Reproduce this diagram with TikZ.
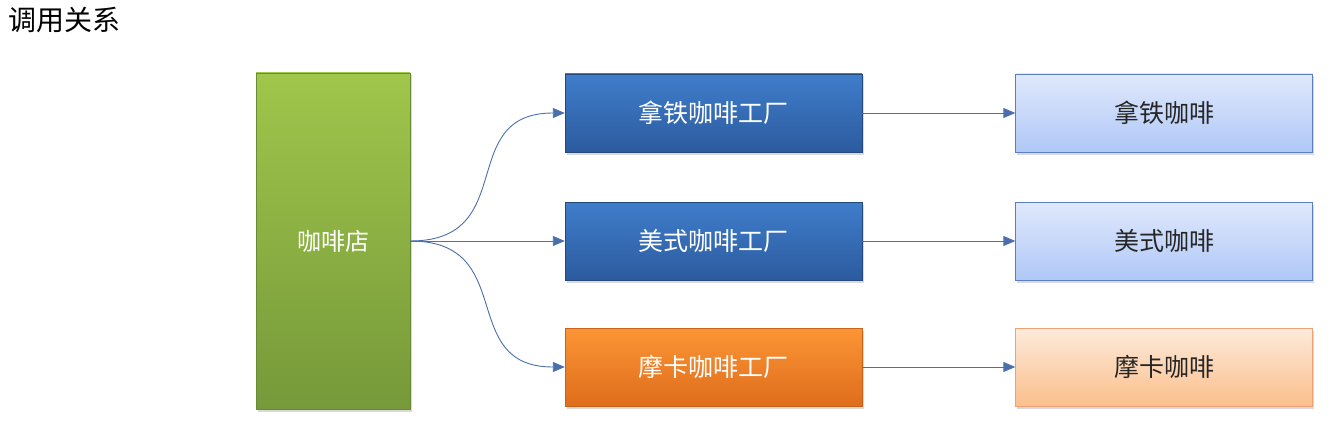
\documentclass[tikz,border=0pt]{standalone}
\usepackage{fontspec}
\setmainfont{Noto Sans CJK SC}
\usetikzlibrary{positioning,arrows.meta,shadows}

\definecolor{shopTop}{HTML}{A0C64B}
\definecolor{shopBot}{HTML}{76993A}
\definecolor{factTop}{HTML}{3F7DCB}
\definecolor{factBot}{HTML}{2C5B9E}
\definecolor{mochaTop}{HTML}{FC9535}
\definecolor{mochaBot}{HTML}{DF6D1C}
\definecolor{cupTop}{HTML}{E0E8FC}
\definecolor{cupBot}{HTML}{AFC8F6}
\definecolor{cupLine}{HTML}{5B7FBE}
\definecolor{mcupTop}{HTML}{FDEADB}
\definecolor{mcupBot}{HTML}{FBBF8C}
\definecolor{mcupLine}{HTML}{EDA273}
\definecolor{callLine}{HTML}{4A70AC}

\tikzset{
  box/.style = {shape = rectangle, minimum width = 297pt, minimum height = 78pt,
    inner sep = 0pt, font = \fontsize{25}{30}\selectfont,
    drop shadow = {shadow xshift = 1.5pt, shadow yshift = -2.5pt, opacity = .3}},
  factory/.style = {box, top color = factTop, bottom color = factBot, draw = factBot!80!black, line width = .4pt, text = white},
  mochafactory/.style = {box, top color = mochaTop, bottom color = mochaBot, draw = mochaBot!90!black, line width = .4pt, text = white},
  coffee/.style = {box, top color = cupTop, bottom color = cupBot, draw = cupLine, text = black!85},
  mochacoffee/.style = {box, top color = mcupTop, bottom color = mcupBot, draw = mcupLine, text = black!85},
  call/.style = {draw = callLine, line width = .9pt, -{Stealth[length = 12pt, width = 10pt, inset = 0pt]}}
}

\begin{document}
\begin{tikzpicture}[x = 1pt, y = -1pt]
\useasboundingbox (0,0) rectangle (1330,433);
\node[anchor = west, font = \fontsize{28}{32}\selectfont] (title) at (5,20) {调用关系};
% the shop
\node[shape = rectangle, minimum width = 154pt, minimum height = 336pt, inner sep = 0pt,
  top color = shopTop, bottom color = shopBot, draw = shopBot!90!black, line width = .4pt,
  drop shadow = {shadow xshift = 1.5pt, shadow yshift = -2.5pt, opacity = .3}] (shop) at (333,241) {};
\node[text = white, font = \fontsize{24}{28}\selectfont] (shoplabel) at (333,241) {咖啡店};
% factories
\node[factory] (lattef) at (713.5,113) {拿铁咖啡工厂};
\node[factory] (americanof) at (713.5,241) {美式咖啡工厂};
\node[mochafactory] (mochaf) at (713.5,367) {摩卡咖啡工厂};
% coffees
\node[coffee] (latte) at (1164,113) {拿铁咖啡};
\node[coffee] (americano) at (1164,241) {美式咖啡};
\node[mochacoffee] (mocha) at (1164,367) {摩卡咖啡};
% calls
\draw[call] (shop.east) to[out = 0, in = 180, looseness = 1.4] (lattef.west);
\draw[call] (shop.east) -- (americanof.west);
\draw[call] (shop.east) to[out = 0, in = 180, looseness = 1.4] (mochaf.west);
\draw[call] (lattef) -- (latte);
\draw[call] (americanof) -- (americano);
\draw[call] (mochaf) -- (mocha);
\end{tikzpicture}
\end{document}
